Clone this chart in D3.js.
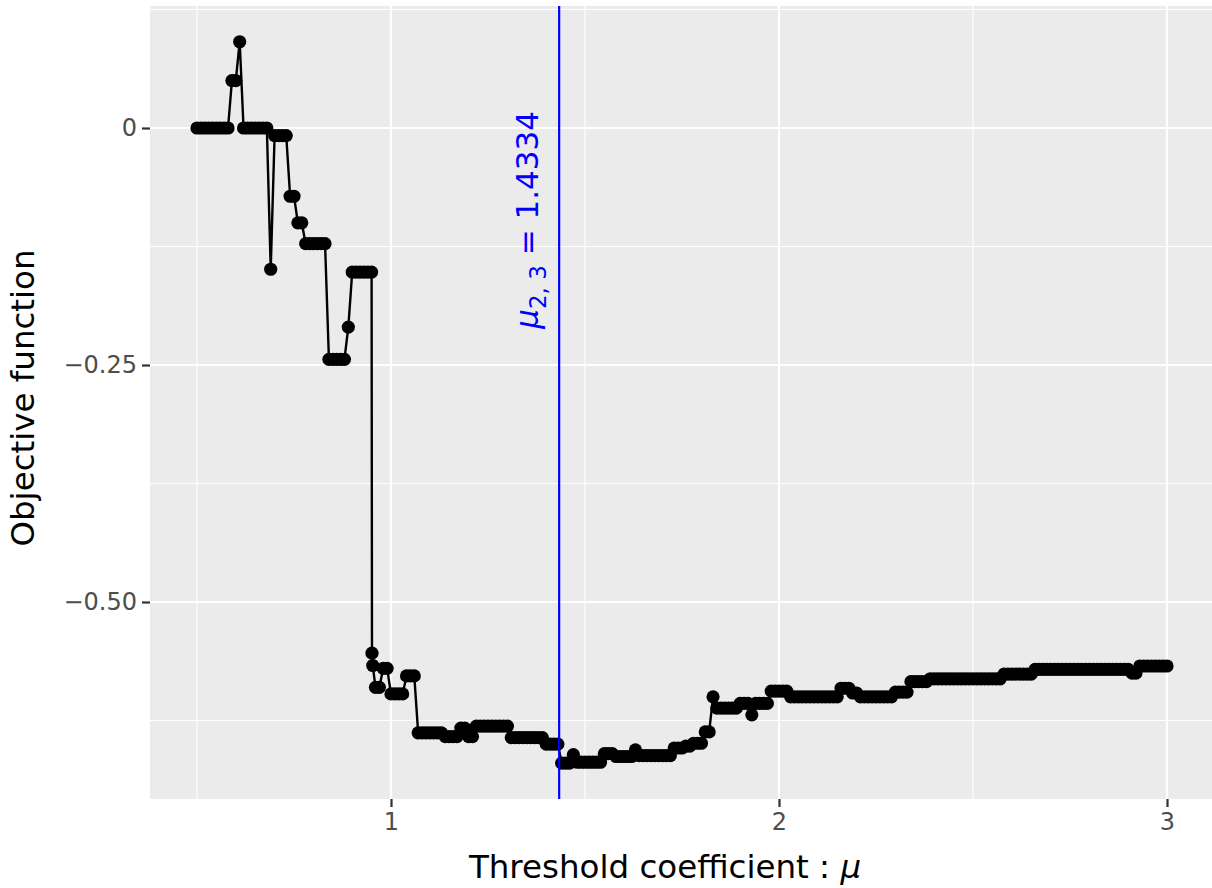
<!DOCTYPE html>
<html>
<head>
<meta charset="utf-8">
<script src="https://cdn.jsdelivr.net/npm/d3@7"></script>
<style>
  html, body { margin: 0; padding: 0; background: #ffffff; }
  svg { display: block; font-family: "DejaVu Sans", sans-serif; }
</style>
</head>
<body>
<svg id="chart" width="1212" height="888"></svg>
<script>
// ---- data ----
const mu = [
  0.50, 0.51, 0.52, 0.53, 0.54, 0.55, 0.56, 0.57, 0.58, 0.59,
  0.60, 0.61, 0.62, 0.63, 0.64, 0.65, 0.66, 0.67, 0.68, 0.69,
  0.70, 0.71, 0.72, 0.73, 0.74, 0.75, 0.76, 0.77, 0.78, 0.79,
  0.80, 0.81, 0.82, 0.83, 0.84, 0.85, 0.86, 0.87, 0.88, 0.89,
  0.90, 0.91, 0.92, 0.93, 0.94, 0.95, 0.951, 0.953, 0.96, 0.97,
  0.98, 0.99, 1.00, 1.01, 1.02, 1.03, 1.04, 1.05, 1.06, 1.07,
  1.08, 1.09, 1.10, 1.11, 1.12, 1.13, 1.14, 1.15, 1.16, 1.17,
  1.18, 1.19, 1.20, 1.21, 1.22, 1.23, 1.24, 1.25, 1.26, 1.27,
  1.28, 1.29, 1.30, 1.31, 1.32, 1.33, 1.34, 1.35, 1.36, 1.37,
  1.38, 1.39, 1.40, 1.41, 1.42, 1.43, 1.44, 1.45, 1.46, 1.47,
  1.48, 1.49, 1.50, 1.51, 1.52, 1.53, 1.54, 1.55, 1.56, 1.57,
  1.58, 1.59, 1.60, 1.61, 1.62, 1.63, 1.64, 1.65, 1.66, 1.67,
  1.68, 1.69, 1.70, 1.71, 1.72, 1.73, 1.74, 1.75, 1.76, 1.77,
  1.78, 1.79, 1.80, 1.81, 1.82, 1.83, 1.84, 1.85, 1.86, 1.87,
  1.88, 1.89, 1.90, 1.91, 1.92, 1.93, 1.94, 1.95, 1.96, 1.97,
  1.98, 1.99, 2.00, 2.01, 2.02, 2.03, 2.04, 2.05, 2.06, 2.07,
  2.08, 2.09, 2.10, 2.11, 2.12, 2.13, 2.14, 2.15, 2.16, 2.17,
  2.18, 2.19, 2.20, 2.21, 2.22, 2.23, 2.24, 2.25, 2.26, 2.27,
  2.28, 2.29, 2.30, 2.31, 2.32, 2.33, 2.34, 2.35, 2.36, 2.37,
  2.38, 2.39, 2.40, 2.41, 2.42, 2.43, 2.44, 2.45, 2.46, 2.47,
  2.48, 2.49, 2.50, 2.51, 2.52, 2.53, 2.54, 2.55, 2.56, 2.57,
  2.58, 2.59, 2.60, 2.61, 2.62, 2.63, 2.64, 2.65, 2.66, 2.67,
  2.68, 2.69, 2.70, 2.71, 2.72, 2.73, 2.74, 2.75, 2.76, 2.77,
  2.78, 2.79, 2.80, 2.81, 2.82, 2.83, 2.84, 2.85, 2.86, 2.87,
  2.88, 2.89, 2.90, 2.91, 2.92, 2.93, 2.94, 2.95, 2.96, 2.97,
  2.98, 2.99, 3.00
];
const objective = [
  0, 0, 0, 0, 0, 0, 0, 0, 0, 0.050,
  0.050, 0.091, 0, 0, 0, 0, 0, 0, 0, -0.149,
  -0.008, -0.008, -0.008, -0.008, -0.072, -0.072, -0.100, -0.100, -0.122, -0.122,
  -0.122, -0.122, -0.122, -0.122, -0.244, -0.244, -0.244, -0.244, -0.244, -0.210,
  -0.152, -0.152, -0.152, -0.152, -0.152, -0.152, -0.554, -0.567, -0.590, -0.590,
  -0.570, -0.570, -0.597, -0.597, -0.597, -0.597, -0.578, -0.578, -0.578, -0.638,
  -0.638, -0.638, -0.638, -0.638, -0.638, -0.638, -0.642, -0.642, -0.642, -0.642,
  -0.633, -0.633, -0.642, -0.642, -0.631, -0.631, -0.631, -0.631, -0.631, -0.631,
  -0.631, -0.631, -0.631, -0.643, -0.643, -0.643, -0.643, -0.643, -0.643, -0.643,
  -0.643, -0.643, -0.650, -0.650, -0.650, -0.650, -0.670, -0.670, -0.670, -0.661,
  -0.669, -0.669, -0.669, -0.669, -0.669, -0.669, -0.669, -0.660, -0.660, -0.660,
  -0.663, -0.663, -0.663, -0.663, -0.663, -0.656, -0.662, -0.662, -0.662, -0.662,
  -0.662, -0.662, -0.662, -0.662, -0.662, -0.654, -0.654, -0.654, -0.652, -0.652,
  -0.649, -0.649, -0.649, -0.637, -0.637, -0.600, -0.612, -0.612, -0.612, -0.612,
  -0.612, -0.612, -0.607, -0.607, -0.607, -0.619, -0.607, -0.607, -0.607, -0.607,
  -0.594, -0.594, -0.594, -0.594, -0.594, -0.600, -0.600, -0.600, -0.600, -0.600,
  -0.600, -0.600, -0.600, -0.600, -0.600, -0.600, -0.600, -0.600, -0.591, -0.591,
  -0.591, -0.596, -0.596, -0.600, -0.600, -0.600, -0.600, -0.600, -0.600, -0.600,
  -0.600, -0.600, -0.595, -0.595, -0.595, -0.595, -0.584, -0.584, -0.584, -0.584,
  -0.584, -0.581, -0.581, -0.581, -0.581, -0.581, -0.581, -0.581, -0.581, -0.581,
  -0.581, -0.581, -0.581, -0.581, -0.581, -0.581, -0.581, -0.581, -0.581, -0.581,
  -0.576, -0.576, -0.576, -0.576, -0.576, -0.576, -0.576, -0.576, -0.571, -0.571,
  -0.571, -0.571, -0.571, -0.571, -0.571, -0.571, -0.571, -0.571, -0.571, -0.571,
  -0.571, -0.571, -0.571, -0.571, -0.571, -0.571, -0.571, -0.571, -0.571, -0.571,
  -0.571, -0.571, -0.571, -0.575, -0.575, -0.5675, -0.5675, -0.5675, -0.5675, -0.5675,
  -0.5675, -0.5675, -0.5675
];
const optimumMu = 1.4334;
const xTickValues = [1, 2, 3];
const xTickLabels = ["1", "2", "3"];
const xMinorValues = [0.5, 1.5, 2.5];
const yTickValues = [0, -0.25, -0.5];
const yTickLabels = ["0", "\u22120.25", "\u22120.50"];
const yMinorValues = [0.125, -0.125, -0.375, -0.625];
const xTitle = "Threshold coefficient : ";
const yTitle = "Objective function";

// ---- layout ----
const panel = { left: 150, right: 1216, top: 6, bottom: 799 };
const svg = d3.select("#chart");

const x = d3.scaleLinear().domain([1, 3]).range([391, 1167]);
const y = d3.scaleLinear().domain([0, -0.5]).range([128, 602]);

const points = mu.map((m, i) => ({ mu: m, v: objective[i] }));

// panel background
svg.append("rect")
  .attr("x", panel.left).attr("y", panel.top)
  .attr("width", panel.right - panel.left).attr("height", panel.bottom - panel.top)
  .attr("fill", "#EBEBEB");

svg.append("clipPath").attr("id", "clip")
  .append("rect")
  .attr("x", panel.left).attr("y", panel.top)
  .attr("width", panel.right - panel.left).attr("height", panel.bottom - panel.top);

const g = svg.append("g").attr("clip-path", "url(#clip)");

// minor grid
g.selectAll(".xminor").data(xMinorValues).join("line")
  .attr("x1", d => x(d)).attr("x2", d => x(d))
  .attr("y1", panel.top).attr("y2", panel.bottom)
  .attr("stroke", "#ffffff").attr("stroke-width", 1.1);
g.selectAll(".yminor").data(yMinorValues).join("line")
  .attr("y1", d => y(d)).attr("y2", d => y(d))
  .attr("x1", panel.left).attr("x2", panel.right)
  .attr("stroke", "#ffffff").attr("stroke-width", 1.1);
// major grid
g.selectAll(".xmajor").data(xTickValues).join("line")
  .attr("x1", d => x(d)).attr("x2", d => x(d))
  .attr("y1", panel.top).attr("y2", panel.bottom)
  .attr("stroke", "#ffffff").attr("stroke-width", 2.2);
g.selectAll(".ymajor").data(yTickValues).join("line")
  .attr("y1", d => y(d)).attr("y2", d => y(d))
  .attr("x1", panel.left).attr("x2", panel.right)
  .attr("stroke", "#ffffff").attr("stroke-width", 2.2);

// line
g.append("path")
  .datum(points)
  .attr("fill", "none")
  .attr("stroke", "#000000")
  .attr("stroke-width", 2.4)
  .attr("stroke-linejoin", "round")
  .attr("d", d3.line().x(d => x(d.mu)).y(d => y(d.v)));

// points
g.selectAll(".pt").data(points).join("circle")
  .attr("cx", d => x(d.mu)).attr("cy", d => y(d.v))
  .attr("r", 6.6).attr("fill", "#000000");

// vertical optimum line
g.append("line")
  .attr("x1", x(optimumMu)).attr("x2", x(optimumMu))
  .attr("y1", panel.top).attr("y2", panel.bottom)
  .attr("stroke", "#0000FF").attr("stroke-width", 2.2);

// annotation
const ann = svg.append("text")
  .attr("transform", `translate(${x(optimumMu) - 21},111) rotate(-90)`)
  .attr("text-anchor", "end")
  .attr("fill", "#0000FF")
  .attr("font-size", 31);
ann.append("tspan").attr("font-style", "italic").text("\u03bc");
ann.append("tspan").attr("font-size", 23).attr("dy", 8).text("2, 3");
ann.append("tspan").attr("dy", -8).text(" = " + optimumMu.toFixed(4));

// axes
const xAxis = d3.axisBottom(x).tickValues(xTickValues)
  .tickFormat((d, i) => xTickLabels[i]).tickSize(8).tickPadding(6);
const xg = svg.append("g").attr("transform", `translate(0,${panel.bottom})`).call(xAxis);
xg.select(".domain").remove();
xg.selectAll(".tick line").attr("stroke", "#333333").attr("stroke-width", 2.2);
xg.selectAll(".tick text").attr("fill", "#4D4D4D").attr("font-size", 24)
  .attr("font-family", "DejaVu Sans, sans-serif");

const yAxis = d3.axisLeft(y).tickValues(yTickValues)
  .tickFormat((d, i) => yTickLabels[i]).tickSize(8).tickPadding(5);
const yg = svg.append("g").attr("transform", `translate(${panel.left},0)`).call(yAxis);
yg.select(".domain").remove();
yg.selectAll(".tick line").attr("stroke", "#333333").attr("stroke-width", 2.2);
yg.selectAll(".tick text").attr("fill", "#4D4D4D").attr("font-size", 24)
  .attr("font-family", "DejaVu Sans, sans-serif");

// axis titles
const xt = svg.append("text")
  .attr("x", 665).attr("y", 878)
  .attr("text-anchor", "middle")
  .attr("font-size", 32.5).attr("fill", "#000000");
xt.append("tspan").text(xTitle);
xt.append("tspan").attr("font-style", "italic").text("\u03bc");

svg.append("text")
  .attr("transform", "translate(34,398) rotate(-90)")
  .attr("text-anchor", "middle")
  .attr("font-size", 32.5).attr("fill", "#000000")
  .text(yTitle);
</script>
</body>
</html>
